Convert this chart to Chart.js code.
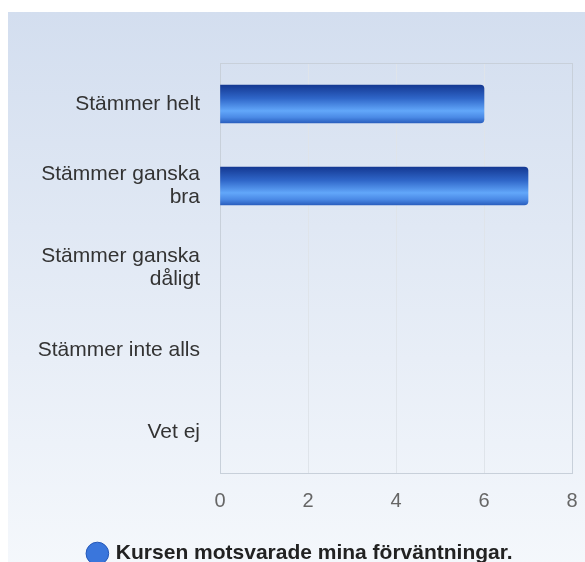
<!DOCTYPE html>
<html>
<head>
<meta charset="utf-8">
<script src="https://cdn.jsdelivr.net/npm/chart.js@4/dist/chart.umd.min.js"></script>
<style>
  html, body { margin: 0; padding: 0; background: #fff; overflow: hidden; }
  #wrap { position: absolute; left: 8px; top: 12px; width: 586px; height: 562px; }
</style>
</head>
<body>
<div id="wrap"><canvas id="chart"></canvas></div>
<script>
/* DATA */
const categories = [
  ["Stämmer helt"],
  ["Stämmer ganska", "bra"],
  ["Stämmer ganska", "dåligt"],
  ["Stämmer inte alls"],
  ["Vet ej"]
];
const values = [6, 7, 0, 0, 0];
const seriesName = "Kursen motsvarade mina förväntningar.";
const xMin = 0;
const xMax = 8;
const xStep = 2;

const BAR_H = 38;
const FONT = "Liberation Sans, Arial, sans-serif";

/* HELPERS */
function barGradient(ctx) {
  const chart = ctx.chart;
  if (!ctx.raw) return "rgba(0,0,0,0)";
  if (!chart.chartArea) return "#3b77dc";
  const y = chart.scales.y.getPixelForValue(ctx.dataIndex);
  const g = chart.ctx.createLinearGradient(0, y - BAR_H / 2, 0, y + BAR_H / 2);
  g.addColorStop(0, "#143892");
  g.addColorStop(0.35, "#2f66c8");
  g.addColorStop(0.68, "#62a7fa");
  g.addColorStop(0.85, "#4b8ae6");
  g.addColorStop(1, "#2a5fbf");
  return g;
}

/* PLUGINS */
const background = {
  id: "background",
  beforeDraw(chart) {
    const { ctx, width, height } = chart;
    const g = ctx.createLinearGradient(0, 0, 0, height);
    g.addColorStop(0, "#d3deef");
    g.addColorStop(1, "#f5f8fc");
    ctx.save();
    ctx.fillStyle = g;
    ctx.fillRect(0, 0, width, height);
    ctx.restore();
  }
};

const plotBorder = {
  id: "plotBorder",
  beforeDatasetsDraw(chart) {
    const { ctx, chartArea: a } = chart;
    ctx.save();
    ctx.strokeStyle = "#c8d0da";
    ctx.lineWidth = 1;
    ctx.strokeRect(Math.round(a.left) + 0.5, Math.round(a.top) + 0.5,
      Math.round(a.right - a.left), Math.round(a.bottom - a.top));
    ctx.restore();
  }
};

/* CHART */
new Chart(document.getElementById("chart"), {
  type: "bar",
  data: {
    labels: categories,
    datasets: [{
      label: seriesName,
      data: values,
      backgroundColor: barGradient,
      borderWidth: 0,
      borderRadius: 4,
      borderSkipped: "start",
      barThickness: BAR_H
    }]
  },
  options: {
    indexAxis: "y",
    responsive: true,
    maintainAspectRatio: false,
    animation: false,
    layout: { padding: { top: 51, right: 0, bottom: 0, left: 0 } },
    scales: {
      x: {
        min: xMin,
        max: xMax,
        ticks: {
          stepSize: xStep,
          padding: 16,
          color: "#666",
          font: { family: FONT, size: 20 }
        },
        grid: { color: "#dfe4ea", drawTicks: false },
        border: { display: false },
        afterFit(scale) { scale.height = 60; }
      },
      y: {
        ticks: {
          padding: 20,
          color: "#333",
          font: { family: FONT, size: 21, lineHeight: 1.1 }
        },
        grid: { display: false, drawTicks: false },
        border: { display: false },
        afterFit(scale) { scale.width = 212; }
      },
      yRight: {
        type: "category",
        position: "right",
        ticks: { display: false },
        grid: { display: false, drawTicks: false },
        border: { display: false },
        afterFit(scale) { scale.width = 22; }
      }
    },
    plugins: {
      legend: {
        position: "bottom",
        labels: {
          usePointStyle: true,
          pointStyle: "circle",
          boxWidth: 16,
          boxHeight: 16,
          padding: 10,
          color: "#222",
          font: { family: FONT, size: 21, weight: "bold" },
          generateLabels(chart) {
            const items = Chart.defaults.plugins.legend.labels.generateLabels(chart);
            items.forEach(it => {
              it.fillStyle = "#3a76dc";
              it.strokeStyle = "#2457b8";
              it.lineWidth = 1;
            });
            return items;
          }
        }
      },
      tooltip: { enabled: false }
    }
  },
  plugins: [background, plotBorder]
});
</script>
</body>
</html>
